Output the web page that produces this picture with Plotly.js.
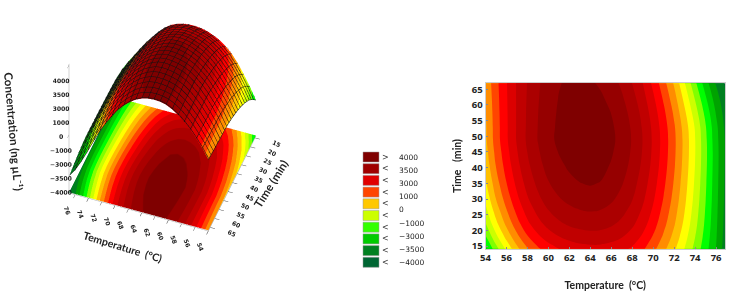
<!DOCTYPE html>
<html><head><meta charset="utf-8">
<script src="https://cdn.plot.ly/plotly-3.0.0.min.js"></script>
<style>html,body{margin:0;padding:0;background:#fff}#c{width:738px;height:297px}</style></head>
<body><div id="c"></div>
<script>
const temperature=[54,55,56,57,58,59,60,61,62,63,64,65,66,67,68,69,70,71,72,73,74,75,76,77];
const time=[14,15,18,22,26,30,35,41,45,49,53,58,62,67];
const concentration=[
[-2640,-1710,-880,-155,460,910,1250,1490,1675,1785,1835,1830,1755,1620,1410,1080,645,130,-410,-1020,-1660,-2305,-3015,-3860],
[-2500,-1570,-750,-30,580,1030,1370,1610,1790,1900,1950,1940,1860,1720,1500,1160,720,200,-350,-970,-1620,-2280,-3000,-3850],
[-2044,-1131,-338,365,962,1408,1750,1988,2160,2265,2313,2293,2196,2034,1785,1420,956,415,-160,-808,-1493,-2198,-2958,-3812],
[-1540,-646,118,802,1384,1826,2170,2406,2570,2668,2714,2684,2568,2380,2100,1708,1216,652,50,-630,-1352,-2108,-2912,-3770],
[-1180,-300,444,1114,1686,2125,2470,2705,2862,2956,3000,2963,2833,2628,2325,1914,1402,822,200,-502,-1252,-2044,-2879,-3740],
[-868,1,726,1384,1947,2383,2730,2963,3130,3250,3300,3240,3080,2842,2520,2092,1563,968,330,-392,-1164,-1988,-2850,-3714],
[-580,278,986,1634,2188,2622,2970,3202,3400,3490,3535,3480,3310,3040,2700,2256,1712,1104,450,-290,-1084,-1936,-2824,-3690],
[-316,532,1225,1863,2409,2841,3190,3421,3575,3665,3705,3640,3471,3222,2865,2407,1848,1228,560,-197,-1010,-1889,-2800,-3668],
[-196,648,1333,1967,2510,2940,3290,3520,3662,3750,3790,3726,3550,3295,2930,2465,1900,1275,600,-165,-985,-1875,-2795,-3658],
[-100,740,1420,2050,2590,3020,3370,3600,3740,3820,3860,3790,3600,3340,2960,2490,1920,1290,610,-160,-990,-1900,-2830,-3650],
[-76,753,1426,2050,2582,3009,3354,3584,3721,3795,3824,3750,3570,3305,2925,2450,1880,1245,560,-223,-1050,-1962,-2874,-3710],
[-28,780,1438,2050,2565,2988,3323,3553,3682,3744,3752,3667,3482,3201,2816,2339,1748,1096,391,-430,-1292,-2185,-3061,-3830],
[24,808,1451,2050,2547,2964,3289,3519,3641,3690,3674,3571,3376,3079,2684,2201,1594,927,204,-653,-1539,-2427,-3264,-3960],
[100,850,1470,2050,2520,2930,3240,3470,3580,3610,3560,3430,3220,2900,2490,2000,1370,680,-70,-980,-1900,-2780,-3560,-4150]];
const floorLevel=concentration.map(r=>r.map(()=>-5400));
const bandColors=['#006633','#008020','#00a300','#00cc00','#00ff00','#80ff00','#ccff00','#ffff00','#ffc000','#ff8c00','#ff4500','#ff0000','#dc0000','#c00000','#ab0000','#960000','#7f0000'];
const legendColors=['#7f0000','#a00000','#e00000','#ff4500','#ffc800','#ccff00','#33ff00','#00cc00','#008020','#006633'];
const legendSigns=['>','<','<','<','<','<','<','<','<','<'];
const legendLabels=['4000','3500','3000','1000','0','−1000','−3000','−3500','−4000'];
const zTickVals=[-4160,-3075,-1990,-905,180,1265,2350,3435,4520];
const zTickText=['−4000','−3500','−3000','−1000','0','1000','3000','3500','4000'];
const xTicks=[54,56,58,60,62,64,66,68,70,72,74,76];
const xTicks3dVals=[54,56.2,58.4,60.6,62.8,65,67.2,69.4,71.6,73.8,76];
const xTicks3dText=['54','56','58','60','62','64','68','70','72','74','76'];
const yTicks=[15,20,25,30,35,40,45,50,55,60,65];

const scale=[];
bandColors.forEach((c,i)=>{scale.push([i/bandColors.length,c]);scale.push([(i+1)/bandColors.length,c]);});
const W=738,H=297;
const tickFont={family:'"Open Sans",sans-serif',size:9.5,color:'#222',weight:700};
const flat={ambient:1,diffuse:0,specular:0,roughness:1,fresnel:0};
const ax3={title:{text:''},showgrid:false,showbackground:false,showspikes:false,zeroline:false,showline:true,linecolor:'#aaa',ticks:'outside',ticklen:5,tickcolor:'#555',tickfont:{family:'"DejaVu Sans",sans-serif',size:8.5,color:'#222',weight:700}};
const titleFont3={family:'Lato,sans-serif',size:11.5,color:'#222',weight:700};
const titleFont2={family:'Lato,sans-serif',size:10.5,color:'#222',weight:700};

const traces=[
{type:'surface',x:temperature,y:time,z:floorLevel,surfacecolor:concentration,colorscale:scale,cmin:-4500,cmax:4000,showscale:false,lighting:flat,hoverinfo:'skip',scene:'scene'},
{type:'surface',x:temperature,y:time,z:concentration,colorscale:scale,cmin:-4500,cmax:4000,showscale:false,lighting:flat,hoverinfo:'skip',scene:'scene',
 contours:{x:{show:true,start:54,end:77,size:1,color:'#111',width:1},y:{show:true,start:14,end:67,size:2.5,color:'#111',width:1},z:{show:false}}},
{type:'contour',x:temperature,y:time,z:concentration,colorscale:scale,autocontour:false,
 contours:{start:-4000,end:3500,size:500,coloring:'fill',showlines:false},line:{width:0,smoothing:1.3},showscale:false,xaxis:'x',yaxis:'y',hoverinfo:'skip'}
];
const shapes=legendColors.map((c,i)=>({type:'rect',xref:'paper',yref:'paper',x0:363/W,x1:379/W,y0:1-(162+i*11.7)/H,y1:1-(152+i*11.7)/H,fillcolor:c,line:{color:'#999',width:0.5}}));
const annotations=[
 {xref:'paper',yref:'paper',x:14/W,y:1-131/H,text:'Concentration (ng µL⁻¹)',textangle:85,showarrow:false,xanchor:'center',yanchor:'middle',font:titleFont3},
 {xref:'paper',yref:'paper',x:123/W,y:1-247/H,text:'Temperature  (°C)',textangle:17,showarrow:false,xanchor:'center',yanchor:'middle',font:Object.assign({},titleFont3,{size:10.5})},
 {xref:'paper',yref:'paper',x:270/W,y:1-184/H,text:'Time (min)',textangle:-58,showarrow:false,xanchor:'center',yanchor:'middle',font:titleFont3}
];
legendSigns.forEach((t,i)=>{
 annotations.push({xref:'paper',yref:'paper',x:386/W,y:1-(157+i*11.7)/H,text:t,showarrow:false,xanchor:'center',yanchor:'middle',font:{family:'"DejaVu Sans",sans-serif',size:8,color:'#333'}});
});
legendLabels.forEach((t,i)=>{
 annotations.push({xref:'paper',yref:'paper',x:397/W,y:1-(157.5+i*13.1)/H,text:t,showarrow:false,xanchor:'left',yanchor:'middle',font:{family:'"DejaVu Sans",sans-serif',size:7.5,color:'#222'}});
});
const layout={width:W,height:H,margin:{l:0,r:0,t:0,b:0},paper_bgcolor:'#fff',plot_bgcolor:'#fff',showlegend:false,shapes,annotations,
 scene:{domain:{x:[0,0.44],y:[0,1]},aspectmode:'manual',aspectratio:{x:1,y:0.924,z:1.287},
  camera:{eye:{x:-0.477,y:1.29,z:1.017},up:{x:0,y:0,z:1},center:{x:0,y:0,z:-0.4835},projection:{type:'orthographic'}},
  xaxis:Object.assign({},ax3,{range:[54,77],tickmode:'array',tickvals:xTicks3dVals,ticktext:xTicks3dText,tickangle:70}),
  yaxis:Object.assign({},ax3,{range:[14,67],tickmode:'array',tickvals:yTicks,tickangle:25}),
  zaxis:Object.assign({},ax3,{range:[-5450,4600],tickmode:'array',tickvals:zTickVals,ticktext:zTickText,tickangle:0,ticklen:8})
 },
 xaxis:{domain:[485.5/W,725/W],range:[54,76.85],tickmode:'array',tickvals:xTicks,tickfont:tickFont,ticks:'inside',ticklen:2,tickcolor:'#888',showgrid:false,zeroline:false,showline:true,linecolor:'#ccc',mirror:true,
  title:{text:'Temperature  (°C)',font:titleFont2,standoff:18}},
 yaxis:{domain:[1-248.7/H,1-83.3/H],range:[14.15,66.9],tickmode:'array',tickvals:yTicks,tickfont:tickFont,ticks:'inside',ticklen:2,tickcolor:'#888',showgrid:false,zeroline:false,showline:true,linecolor:'#ccc',mirror:true,
  title:{text:'Time   (min)',font:titleFont2,standoff:8}}
};
Plotly.newPlot('c',traces,layout,{displayModeBar:false});
</script></body></html>
